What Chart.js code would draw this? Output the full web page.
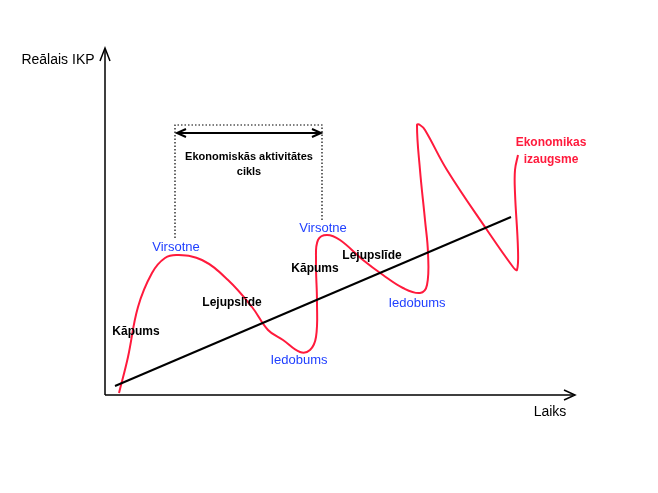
<!DOCTYPE html>
<html><head><meta charset="utf-8">
<script src="https://cdn.jsdelivr.net/npm/chart.js@4"></script>
<style>body{margin:0;background:#fff}</style></head>
<body><canvas id="c" width="658" height="493"></canvas>
<script>
// Economic growth curve (time, real GDP) in chart units
const cycleX = [14,23,33,47,60,73,97,123,147,163,178,195,205,211,212,211,213,222,235,258,278,298,315,322,323,320,315,312,315,320,342,382,408,412,413,410,410,413];
const cycleY = [2,38,88,122,137,140,135,115,88,65,55,43,45,58,92,135,155,160,155,135,120,107,102,110,142,175,225,270,270,265,225,165,128,125,145,202,225,240];
const trendX = [10,406];
const trendY = [9,178];
const labels = [
 {t:'Virsotne',x:71,y:148,c:'#1f3fff',b:false},
 {t:'Kāpums',x:31,y:63,c:'#000',b:true},
 {t:'Lejupslīde',x:127,y:92,c:'#000',b:true},
 {t:'Iedobums',x:194,y:35,c:'#1f3fff',b:false},
 {t:'Virsotne',x:218,y:167,c:'#1f3fff',b:false},
 {t:'Kāpums',x:210,y:126,c:'#000',b:true},
 {t:'Lejupslīde',x:267,y:139,c:'#000',b:true},
 {t:'Iedobums',x:312,y:92,c:'#1f3fff',b:false},
 {t:'Ekonomikas',x:446,y:252,c:'#ff1a3c',b:true},
 {t:'izaugsme',x:446,y:235,c:'#ff1a3c',b:true}
];
const cycleLabel = ['Ekonomiskās aktivitātes','cikls'];
const bracket = {x1:70,x2:217,top:270,arrowY:262,leftBottom:157,rightBottom:175};

const deco = {
 id:'deco',
 afterDatasetsDraw(ch){
  const c=ch.ctx, X=v=>ch.scales.x.getPixelForValue(v), Y=v=>ch.scales.y.getPixelForValue(v);
  c.save();
  // axes
  c.strokeStyle='#000'; c.lineWidth=1.5;
  c.beginPath(); c.moveTo(X(0),Y(0)); c.lineTo(X(0),Y(345)); c.moveTo(X(0),Y(0)); c.lineTo(X(468),Y(0)); c.stroke();
  c.beginPath(); c.moveTo(X(0)-5,Y(345)+11); c.lineTo(X(0),Y(347)); c.lineTo(X(0)+5,Y(345)+11); c.stroke();
  c.beginPath(); c.moveTo(X(470)-11,Y(0)-5); c.lineTo(X(470),Y(0)); c.lineTo(X(470)-11,Y(0)+5); c.stroke();
  // bracket
  c.setLineDash([1.5,2]); c.lineWidth=1.2;
  c.beginPath(); c.moveTo(X(bracket.x1),Y(bracket.leftBottom)); c.lineTo(X(bracket.x1),Y(bracket.top));
  c.lineTo(X(bracket.x2),Y(bracket.top)); c.lineTo(X(bracket.x2),Y(bracket.rightBottom)); c.stroke();
  c.setLineDash([]); c.lineWidth=2;
  const ay=Y(bracket.arrowY), a1=X(bracket.x1)+2, a2=X(bracket.x2)-1;
  c.beginPath(); c.moveTo(a1,ay); c.lineTo(a2,ay);
  c.moveTo(a1+9,ay-4); c.lineTo(a1,ay); c.lineTo(a1+9,ay+4);
  c.moveTo(a2-9,ay-4); c.lineTo(a2,ay); c.lineTo(a2-9,ay+4); c.stroke();
  c.fillStyle='#000'; c.textAlign='center'; c.textBaseline='middle';
  c.font='bold 11px "Liberation Sans", Arial';
  c.fillText(cycleLabel[0],X(144),Y(238)); c.fillText(cycleLabel[1],X(144),Y(223));
  // labels
  labels.forEach(l=>{c.fillStyle=l.c; c.font=(l.b?'bold 12px':'13px')+' "Liberation Sans", Arial'; c.fillText(l.t,X(l.x),Y(l.y));});
  c.fillStyle='#000'; c.font='14px "Liberation Sans", Arial';
  c.fillText('Reālais IKP',58,60); c.fillText('Laiks',550,412);
  c.restore();
 }
};

new Chart(document.getElementById('c'),{
 type:'scatter',
 data:{datasets:[
  {data:trendX.map((x,i)=>({x,y:trendY[i]})),showLine:true,borderColor:'#000',borderWidth:2,pointRadius:0},
  {data:cycleX.map((x,i)=>({x,y:cycleY[i]})),showLine:true,borderColor:'#ff1a3c',borderWidth:2,pointRadius:0,tension:0.4}
 ]},
 options:{responsive:false,animation:false,
  layout:{padding:{left:105,right:83,top:48,bottom:98}},
  plugins:{legend:{display:false},tooltip:{enabled:false}},
  scales:{x:{type:'linear',min:0,max:470,display:false},y:{min:0,max:347,display:false}}
 },
 plugins:[deco]
});
</script></body></html>
